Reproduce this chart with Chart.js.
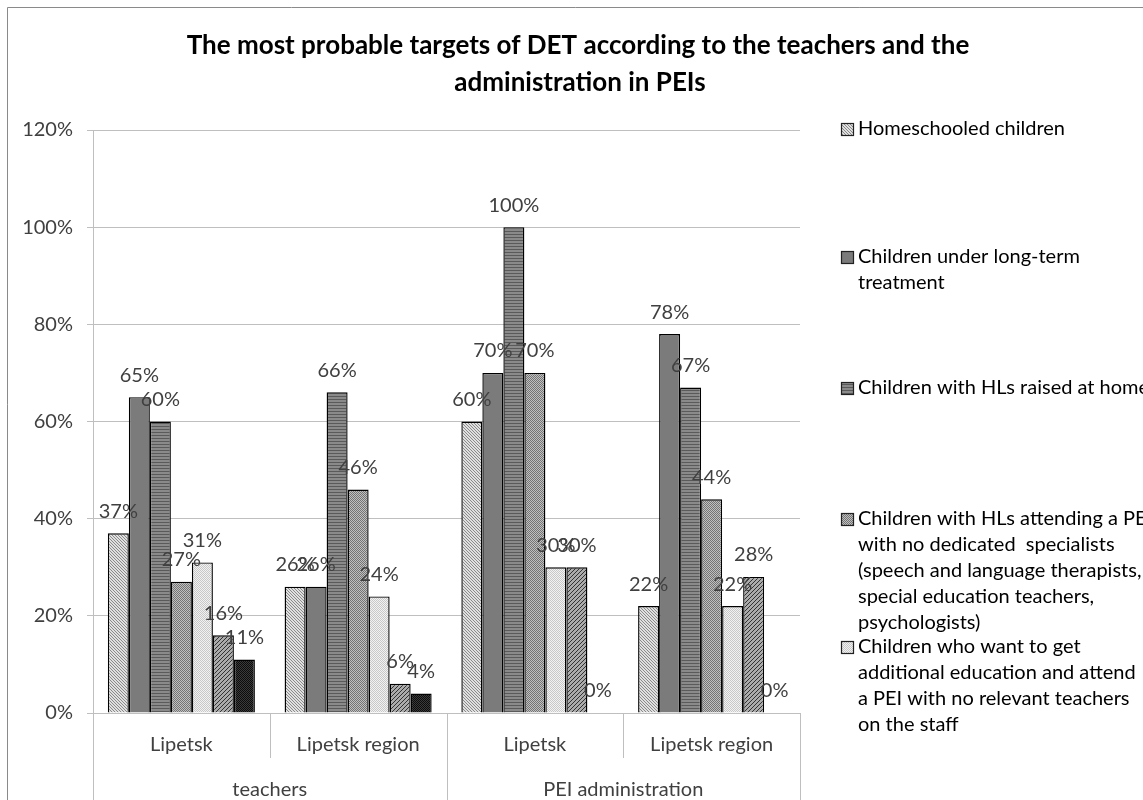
<!DOCTYPE html>
<html>
<head>
<meta charset="utf-8">
<script src="https://cdn.jsdelivr.net/npm/chart.js@4.4.1/dist/chart.umd.min.js"></script>
<style>
  html, body { margin: 0; padding: 0; background: #ffffff; }
  #wrap { width: 1143px; height: 800px; position: relative; }
</style>
</head>
<body>
<div id="wrap"><canvas id="c" width="1143" height="800"></canvas></div>
<script>
// ---------- DATA ----------
const CATEGORIES = ['Lipetsk', 'Lipetsk region', 'Lipetsk', 'Lipetsk region'];
const GROUPS = ['teachers', 'PEI administration'];
const TITLE_LINES = ['The most probable targets of DET according to the teachers and the', 'administration in PEIs'];
const SERIES_NAMES = [
  ['Homeschooled children'],
  ['Children under long-term', 'treatment'],
  ['Children with HLs raised at home'],
  ['Children with HLs attending a PEI', 'with no dedicated  specialists', '(speech and language therapists,', 'special education teachers,', 'psychologists)'],
  ['Children who want to get', 'additional education and attend', 'a PEI with no relevant teachers', 'on the staff'],
  ['Series 6'],
  ['Series 7']
];
const HOMESCHOOLED   = [37, 26, 60, 22];
const LONG_TERM      = [65, 26, 70, 78];
const RAISED_HOME    = [60, 66, 100, 67];
const ATTENDING_PEI  = [27, 46, 70, 44];
const ADDITIONAL_EDU = [31, 24, 30, 22];
const SERIES_6       = [16, 6, 30, 28];
const SERIES_7       = [11, 4, 0, 0];
const Y_TICKS = [0, 20, 40, 60, 80, 100, 120];
const VISIBLE_LEGEND = 5;

// ---------- STYLE ----------
const canvas = document.getElementById('c');
const mainCtx = canvas.getContext('2d');

function pattern(size, draw) {
  const c = document.createElement('canvas');
  c.width = size; c.height = size;
  const g = c.getContext('2d');
  draw(g, size);
  return mainCtx.createPattern(c, 'repeat');
}
function px(g, x, y, col) { g.fillStyle = col; g.fillRect(x, y, 1, 1); }

const FILLS = [
  pattern(3, (g, s) => { g.fillStyle = '#e0e0e0'; g.fillRect(0, 0, s, s); for (let i = 0; i < s; i++) px(g, i, i, '#8a8a8a'); }),
  '#7b7b7b',
  pattern(3, (g, s) => { g.fillStyle = '#8a8a8a'; g.fillRect(0, 0, s, s); g.fillStyle = '#5a5a5a'; g.fillRect(0, 0, s, 1); }),
  pattern(2, (g, s) => { g.fillStyle = '#c0c0c0'; g.fillRect(0, 0, s, s); px(g, 0, 0, '#747474'); px(g, 1, 1, '#747474'); }),
  pattern(2, (g, s) => { g.fillStyle = '#f2f2f2'; g.fillRect(0, 0, s, s); px(g, 0, 0, '#c8c8c8'); px(g, 1, 1, '#c8c8c8'); }),
  pattern(4, (g, s) => { g.fillStyle = '#ababab'; g.fillRect(0, 0, s, s); for (let i = 0; i < s; i++) { px(g, i, s - 1 - i, '#333333'); } }),
  pattern(2, (g, s) => { g.fillStyle = '#3a3a3a'; g.fillRect(0, 0, s, s); px(g, 0, 0, '#0c0c0c'); px(g, 1, 1, '#0c0c0c'); })
];

const SERIES_VALUES = [HOMESCHOOLED, LONG_TERM, RAISED_HOME, ATTENDING_PEI, ADDITIONAL_EDU, SERIES_6, SERIES_7];

const FONT = 'Lato, "Open Sans", "DejaVu Sans", sans-serif';

// ---------- PLUGINS ----------
const framePlugin = {
  id: 'frame',
  beforeDraw(chart) {
    const c = chart.ctx;
    c.save();
    c.strokeStyle = '#8a8a8a';
    c.lineWidth = 1;
    c.beginPath();
    c.moveTo(7.5, 1200); c.lineTo(7.5, 7.5); c.lineTo(1200, 7.5);
    c.stroke();
    // title
    c.fillStyle = '#000000';
    c.font = 'bold 26px ' + FONT;
    c.textAlign = 'center';
    c.textBaseline = 'middle';
    c.fillText(TITLE_LINES[0], 578, 46);
    c.fillText(TITLE_LINES[1], 580, 83);
    c.restore();
  }
};

const axisPlugin = {
  id: 'catAxis',
  afterDraw(chart) {
    const c = chart.ctx;
    const xs = chart.scales.x;
    const area = chart.chartArea;
    const n = CATEGORIES.length;
    const w = (xs.right - xs.left) / n;
    c.save();
    c.strokeStyle = '#bfbfbf';
    c.lineWidth = 1;
    for (let k = 0; k <= n; k++) {
      const x = Math.round(xs.left + k * w) + 0.5;
      const outer = (k % 2 === 0);
      c.beginPath();
      c.moveTo(x, area.bottom);
      c.lineTo(x, outer ? 800 : area.bottom + 45);
      c.stroke();
    }
    c.fillStyle = '#404040';
    c.font = '20px ' + FONT;
    c.textAlign = 'center';
    c.textBaseline = 'middle';
    for (let i = 0; i < n; i++) {
      c.fillText(CATEGORIES[i], xs.getPixelForValue(i), area.bottom + 32);
    }
    for (let j = 0; j < GROUPS.length; j++) {
      c.fillText(GROUPS[j], xs.left + (2 * j + 1) * w, area.bottom + 77);
    }
    c.restore();
  }
};

const labelPlugin = {
  id: 'barLabels',
  afterDatasetsDraw(chart) {
    const c = chart.ctx;
    c.save();
    c.fillStyle = '#404040';
    c.font = '20px ' + FONT;
    c.textAlign = 'center';
    c.textBaseline = 'middle';
    chart.data.datasets.forEach((ds, di) => {
      const meta = chart.getDatasetMeta(di);
      meta.data.forEach((bar, i) => {
        c.fillText(ds.data[i] + '%', bar.x, bar.y - 22);
      });
    });
    c.restore();
  }
};

const legendPlugin = {
  id: 'sideLegend',
  afterDraw(chart) {
    const c = chart.ctx;
    const starts = [129, 257, 388, 519, 647];
    const lineH = 26;
    c.save();
    c.font = '20px ' + FONT;
    c.textAlign = 'left';
    c.textBaseline = 'middle';
    for (let i = 0; i < VISIBLE_LEGEND; i++) {
      const y0 = starts[i];
      c.fillStyle = FILLS[i];
      c.fillRect(841, y0 - 6, 13, 13);
      c.strokeStyle = '#222222';
      c.lineWidth = 1.2;
      c.strokeRect(841.5, y0 - 5.5, 12, 12);
      c.fillStyle = '#000000';
      SERIES_NAMES[i].forEach((line, li) => {
        c.fillText(line, 858, y0 + li * lineH);
      });
    }
    c.restore();
  }
};

// ---------- CHART ----------
new Chart(mainCtx, {
  type: 'bar',
  data: {
    labels: CATEGORIES,
    datasets: SERIES_VALUES.map((vals, i) => ({
      label: SERIES_NAMES[i].join(' '),
      data: vals,
      backgroundColor: FILLS[i],
      borderColor: '#000000',
      borderWidth: 1.4,
      categoryPercentage: 0.832,
      barPercentage: 1.0
    }))
  },
  options: {
    responsive: false,
    animation: false,
    events: [],
    layout: { padding: { left: 0, top: 130, right: 343, bottom: 87 } },
    plugins: {
      legend: { display: false },
      title: { display: false },
      tooltip: { enabled: false }
    },
    scales: {
      x: { display: false, offset: true },
      y: {
        min: Y_TICKS[0],
        max: Y_TICKS[Y_TICKS.length - 1],
        afterBuildTicks(scale) { scale.ticks = Y_TICKS.map(v => ({ value: v })); },
        afterFit(scale) { scale.width = 93; },
        grid: { color: '#bfbfbf', lineWidth: 1, tickLength: 6, drawTicks: true },
        border: { display: true, color: '#bfbfbf', width: 1 },
        ticks: {
          padding: 14,
          color: '#404040',
          font: { family: FONT, size: 20 },
          callback: v => v + '%'
        }
      }
    }
  },
  plugins: [framePlugin, axisPlugin, labelPlugin, legendPlugin]
});
</script>
</body>
</html>
